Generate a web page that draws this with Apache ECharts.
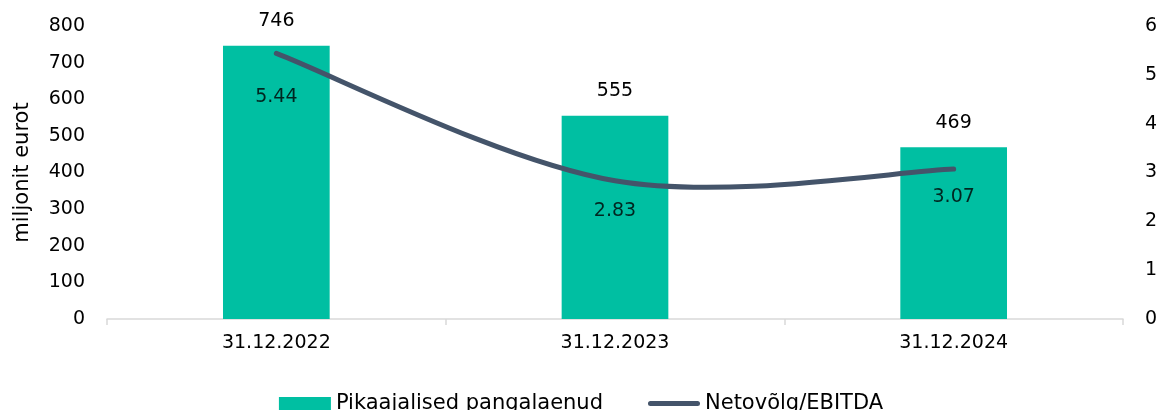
<!DOCTYPE html>
<html>
<head>
<meta charset="utf-8">
<script src="https://cdn.jsdelivr.net/npm/echarts@6/dist/echarts.min.js"></script>
<style>
  html, body { margin: 0; padding: 0; background: #ffffff; }
  #chart { width: 1162px; height: 410px; }
</style>
</head>
<body>
<div id="chart"></div>
<script>
// Long-term bank loans (million EUR) and net debt / EBITDA ratio
const categories = ['31.12.2022', '31.12.2023', '31.12.2024'];
const bankLoans = [746, 555, 469];
const netDebtEbitda = [5.44, 2.83, 3.07];
const leftTicks = { min: 0, max: 800, interval: 100 };
const rightTicks = { min: 0, max: 6, interval: 1 };

const FONT = 'DejaVu Sans';
const TEXT = '#000000';
const BAR_COLOR = '#00BFA2';
const LINE_COLOR = '#44546A';
const AXIS_GREY = '#D9D9D9';

// label spacing below the ratio line, one per point
const ratioLabelGap = [34, 21, 18];

// thick rounded stroke used as the ratio's legend key
const ROUND_LINE_ICON = 'path://M2.5,0 L49.5,0 A2.5,2.5,0,0,1,49.5,5 L2.5,5 A2.5,2.5,0,0,1,2.5,0 Z';

// Cardinal (Catmull-Rom style) spline through the ratio points, so the
// curve may dip between points the way spreadsheet smoothing does.
function renderRatioCurve(params, api) {
  if (params.dataIndex !== 0) return null;
  const pts = netDebtEbitda.map((v, i) => api.coord([i, v]));
  const n = pts.length;
  const P = (i) => pts[Math.max(0, Math.min(n - 1, i))];
  let d = 'M' + pts[0][0] + ',' + pts[0][1];
  for (let i = 0; i < n - 1; i++) {
    const p0 = P(i - 1), p1 = P(i), p2 = P(i + 1), p3 = P(i + 2);
    const c1 = [p1[0] + (p2[0] - p0[0]) / 6, p1[1] + (p2[1] - p0[1]) / 6];
    const c2 = [p2[0] - (p3[0] - p1[0]) / 6, p2[1] - (p3[1] - p1[1]) / 6];
    d += ' C' + c1[0] + ',' + c1[1] + ' ' + c2[0] + ',' + c2[1] + ' ' + p2[0] + ',' + p2[1];
  }
  return {
    type: 'path',
    shape: { pathData: d },
    style: { fill: null, stroke: LINE_COLOR, lineWidth: 5, lineCap: 'round', lineJoin: 'round' },
    silent: true
  };
}

const chart = echarts.init(document.getElementById('chart'));

chart.setOption({
  animation: false,
  textStyle: { fontFamily: FONT },
  grid: { left: 107, right: 39, top: 26, bottom: 91 },
  legend: {
    bottom: -9,
    left: 'center',
    itemGap: 45,
    itemWidth: 52,
    itemHeight: 13,
    textStyle: { fontFamily: FONT, fontSize: 21, color: TEXT },
    data: [
      { name: 'Pikaajalised pangalaenud', icon: 'rect' },
      { name: 'Netovõlg/EBITDA', icon: ROUND_LINE_ICON }
    ]
  },
  xAxis: {
    type: 'category',
    data: categories,
    axisLine: { lineStyle: { color: AXIS_GREY, width: 1.5 } },
    axisTick: { show: true, length: 6, lineStyle: { color: AXIS_GREY, width: 1.5 } },
    axisLabel: { fontFamily: FONT, fontSize: 19, color: TEXT, margin: 15 }
  },
  yAxis: [
    {
      type: 'value',
      min: leftTicks.min,
      max: leftTicks.max,
      interval: leftTicks.interval,
      name: 'miljonit eurot',
      nameLocation: 'middle',
      nameGap: 74,
      nameTextStyle: { fontFamily: FONT, fontSize: 21, color: TEXT },
      axisLine: { show: false },
      axisTick: { show: false },
      splitLine: { show: false },
      axisLabel: { fontFamily: FONT, fontSize: 19, color: TEXT, margin: 22 }
    },
    {
      type: 'value',
      min: rightTicks.min,
      max: rightTicks.max,
      interval: rightTicks.interval,
      position: 'right',
      axisLine: { show: false },
      axisTick: { show: false },
      splitLine: { show: false },
      axisLabel: { fontFamily: FONT, fontSize: 19, color: TEXT, margin: 22 }
    }
  ],
  series: [
    {
      name: 'Pikaajalised pangalaenud',
      type: 'bar',
      yAxisIndex: 0,
      data: bankLoans,
      barWidth: '31.5%',
      itemStyle: { color: BAR_COLOR },
      label: {
        show: true,
        position: 'top',
        distance: 15,
        fontFamily: FONT,
        fontSize: 19,
        color: TEXT
      }
    },
    {
      name: 'Netovõlg/EBITDA',
      type: 'custom',
      yAxisIndex: 1,
      z: 5,
      itemStyle: { color: LINE_COLOR },
      renderItem: renderRatioCurve,
      data: netDebtEbitda.map((v, i) => [i, v])
    },
    {
      // value labels for the ratio line
      name: 'ratioLabels',
      type: 'scatter',
      yAxisIndex: 1,
      symbolSize: 0,
      silent: true,
      z: 6,
      data: netDebtEbitda.map((v, i) => ({
        value: v,
        label: {
          show: true,
          position: 'bottom',
          distance: ratioLabelGap[i],
          fontFamily: FONT,
          fontSize: 19,
          color: TEXT,
          formatter: (p) => p.value.toFixed(2)
        }
      }))
    }
  ]
});
</script>
</body>
</html>
